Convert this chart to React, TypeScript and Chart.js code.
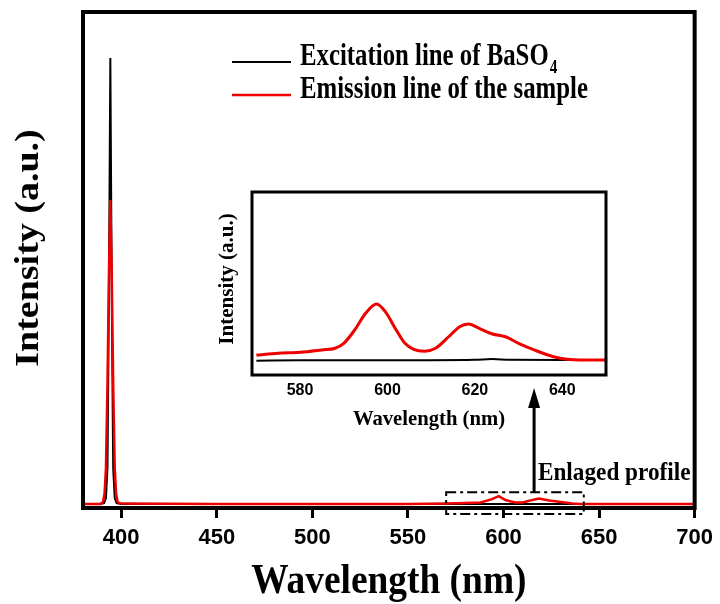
import React, { useEffect, useRef } from 'react';
import { Chart, registerables } from 'chart.js';

Chart.register(...registerables);

// ---------- main chart data ----------
const mainTicks = [400, 450, 500, 550, 600, 650, 700];

const excitationWl = [380, 389, 391, 392, 392.8, 393.5, 394.3, 395.1, 395.8, 396.6, 397.6, 400, 450, 500, 550, 600, 650, 700];
const excitationInt = [0.8, 0.8, 1.0, 2, 8, 40, 90.7, 40, 8, 2, 1.0, 0.8, 0.8, 0.8, 0.8, 0.8, 0.8, 0.8];

const emissionWl = [380, 389, 390.5, 391.3, 392, 392.8, 393.6, 394.3, 395, 395.8, 396.6, 397.3, 398.1, 400, 450, 500, 550, 570, 580, 588, 594, 597.5, 601, 606, 610, 614, 618.5, 624, 630, 636, 640, 700];
const emissionInt = [0.8, 0.8, 1.2, 3, 8, 25, 48, 62.1, 48, 25, 8, 3, 1.2, 0.9, 0.8, 0.8, 0.8, 0.9, 1.0, 1.1, 1.8, 2.4, 1.6, 1.1, 1.1, 1.5, 1.9, 1.5, 1.2, 0.9, 0.8, 0.8];

// zoom box (data units) and arrow / label anchors
const zoomBox = { x0: 570, x1: 642, y0: -1.2, y1: 3.2 };
const arrowFrom = { x: 616, y: 3.2 };
const arrowTip = { x: 616, y: 24.2 };
const labelAnchor = { x: 618, y: 5.6 };

// ---------- inset data ----------
const insetTicks = [580, 600, 620, 640];
const insetEmWl = [570, 575, 580, 585, 588, 590, 592.5, 595, 597.5, 599.5, 602, 604, 606, 608.5, 611, 614, 616.5, 618.5, 621, 624, 627, 630, 634, 638, 641, 645, 650];
const insetEmInt = [10.9, 11.9, 12.4, 13.7, 14.6, 17.3, 24.6, 33.7, 38.8, 34.6, 24.6, 17.3, 14.0, 13.0, 14.6, 20.9, 26.4, 27.9, 25.5, 22.4, 20.9, 17.3, 13.3, 10.0, 8.6, 8.2, 8.2];
const insetExWl = [570, 580, 590, 600, 610, 620, 624, 628, 640, 650];
const insetExInt = [7.8, 8.0, 8.0, 8.1, 8.1, 8.3, 8.7, 8.3, 8.2, 8.2];

const legendLabels = ['Excitation line of BaSO', 'Emission line of the sample'];

const SERIF = '"Liberation Serif", "Times New Roman", serif';
const SANS = '"Liberation Sans", Arial, sans-serif';
const RED = '#ee0000';

const pts = (xs: number[], ys: number[]) => xs.map((x, i) => ({ x, y: ys[i] }));

function drawText(
  ctx: CanvasRenderingContext2D,
  s: string,
  x: number,
  y: number,
  size: number,
  o: { align?: CanvasTextAlign; baseline?: CanvasTextBaseline; rotate?: boolean; squeeze?: number } = {}
) {
  ctx.save();
  ctx.translate(x, y);
  const sq = o.squeeze ?? 1;
  if (o.rotate) {
    ctx.rotate(-Math.PI / 2);
    ctx.scale(1, sq);
  } else {
    ctx.scale(sq, 1);
  }
  ctx.font = `bold ${size}px ${SERIF}`;
  ctx.fillStyle = '#000';
  ctx.textAlign = o.align ?? 'left';
  ctx.textBaseline = o.baseline ?? 'alphabetic';
  ctx.fillText(s, 0, 0);
  const w = ctx.measureText(s).width * sq;
  ctx.restore();
  return w;
}

const mainDecor = {
  id: 'mainDecor',
  afterDraw(chart: any) {
    const { ctx, chartArea: a, scales } = chart;
    const sx = scales.x, sy = scales.y;
    ctx.save();
    // frame
    ctx.strokeStyle = '#000';
    ctx.lineWidth = 4;
    ctx.strokeRect(a.left, a.top, a.right - a.left, a.bottom - a.top);

    // zoom box
    ctx.lineWidth = 2;
    ctx.setLineDash([10, 4, 3, 4]);
    const bx0 = sx.getPixelForValue(zoomBox.x0), bx1 = sx.getPixelForValue(zoomBox.x1);
    const by0 = sy.getPixelForValue(zoomBox.y1), by1 = sy.getPixelForValue(zoomBox.y0);
    ctx.strokeRect(bx0, by0, bx1 - bx0, by1 - by0);
    ctx.setLineDash([]);

    // arrow
    const ax = sx.getPixelForValue(arrowFrom.x);
    const ay0 = sy.getPixelForValue(arrowFrom.y);
    const ay1 = sy.getPixelForValue(arrowTip.y);
    ctx.lineWidth = 3;
    ctx.beginPath();
    ctx.moveTo(ax, ay0);
    ctx.lineTo(ax, ay1 + 16);
    ctx.stroke();
    ctx.fillStyle = '#000';
    ctx.beginPath();
    ctx.moveTo(ax, ay1);
    ctx.lineTo(ax - 6, ay1 + 20);
    ctx.lineTo(ax + 6, ay1 + 20);
    ctx.closePath();
    ctx.fill();

    // label
    drawText(ctx, 'Enlaged profile', sx.getPixelForValue(labelAnchor.x), sy.getPixelForValue(labelAnchor.y), 25, { squeeze: 0.93 });

    // axis titles
    drawText(ctx, 'Wavelength (nm)', (a.left + a.right) / 2, 593, 43, { align: 'center', squeeze: 0.87 });
    drawText(ctx, 'Intensity (a.u.)', 30, 248, 38, { align: 'center', baseline: 'middle', rotate: true, squeeze: 0.86 });

    // legend
    const colors = ['#000', RED];
    const widths = [2, 2.5];
    const ys = [62, 95];
    legendLabels.forEach((lab, i) => {
      ctx.strokeStyle = colors[i];
      ctx.lineWidth = widths[i];
      ctx.beginPath();
      ctx.moveTo(232, ys[i]);
      ctx.lineTo(291, ys[i]);
      ctx.stroke();
      const w = drawText(ctx, lab, 300, ys[i] + 3, 31, { squeeze: 0.8 });
      if (i === 0) drawText(ctx, '4', 300 + w + 1, ys[i] + 11, 19, { squeeze: 0.8 });
    });
    ctx.restore();
  },
};

const insetDecor = {
  id: 'insetDecor',
  afterDraw(chart: any) {
    const { ctx, chartArea: a } = chart;
    ctx.save();
    ctx.strokeStyle = '#000';
    ctx.lineWidth = 3;
    ctx.strokeRect(a.left, a.top, a.right - a.left, a.bottom - a.top);
    drawText(ctx, 'Wavelength (nm)', (a.left + a.right) / 2, 240, 22, { align: 'center', squeeze: 0.94 });
    drawText(ctx, 'Intensity (a.u.)', 28, 94, 21, { align: 'center', baseline: 'middle', rotate: true });
    ctx.restore();
  },
};

export default function App() {
  const mainRef = useRef<HTMLCanvasElement>(null);
  const insetRef = useRef<HTMLCanvasElement>(null);

  useEffect(() => {
    const main = new Chart(mainRef.current!, {
      type: 'line',
      data: {
        datasets: [
          { label: 'Emission line of the sample', data: pts(emissionWl, emissionInt), borderColor: RED, borderWidth: 2.5, pointRadius: 0, tension: 0 },
          { label: 'Excitation line of BaSO4', data: pts(excitationWl, excitationInt), borderColor: '#000', borderWidth: 2, pointRadius: 0, tension: 0 },
        ],
      },
      options: {
        animation: false,
        responsive: false,
        layout: { padding: { left: 83, right: 22, top: 12, bottom: 0 } },
        plugins: { legend: { display: false }, tooltip: { enabled: false } },
        scales: {
          x: {
            type: 'linear',
            min: 380,
            max: 700,
            afterBuildTicks: (ax: any) => { ax.ticks = mainTicks.map((v) => ({ value: v })); },
            afterFit: (s: any) => { s.height = 96; },
            grid: { drawOnChartArea: false, drawTicks: true, tickLength: 10, color: '#000', lineWidth: 3 },
            border: { display: false },
            ticks: { color: '#000', font: { family: SANS, size: 22, weight: 'bold' }, padding: 7, maxRotation: 0, autoSkip: false },
          },
          y: { display: false, min: 0, max: 100 },
        },
      } as any,
      plugins: [mainDecor],
    });

    const inset = new Chart(insetRef.current!, {
      type: 'line',
      data: {
        datasets: [
          { label: 'Emission', data: pts(insetEmWl, insetEmInt), borderColor: RED, borderWidth: 3, pointRadius: 0, cubicInterpolationMode: 'monotone' },
          { label: 'Excitation', data: pts(insetExWl, insetExInt), borderColor: '#000', borderWidth: 2, pointRadius: 0, cubicInterpolationMode: 'monotone' },
        ],
      },
      options: {
        animation: false,
        responsive: false,
        layout: { padding: { left: 52, right: 14, top: 7, bottom: 0 } },
        plugins: { legend: { display: false }, tooltip: { enabled: false } },
        scales: {
          x: {
            type: 'linear',
            min: 569,
            max: 650,
            afterBuildTicks: (ax: any) => { ax.ticks = insetTicks.map((v) => ({ value: v })); },
            afterFit: (s: any) => { s.height = 60; },
            grid: { display: false, drawTicks: false },
            border: { display: false },
            ticks: { color: '#000', font: { family: SANS, size: 16, weight: 'bold' }, padding: 6, maxRotation: 0, autoSkip: false },
          },
          y: { display: false, min: 0, max: 100 },
        },
      } as any,
      plugins: [insetDecor],
    });

    return () => {
      main.destroy();
      inset.destroy();
    };
  }, []);

  return (
    <div style={{ position: 'absolute', left: 0, top: 0, width: 720, height: 604, background: '#fff' }}>
      <canvas ref={mainRef} width={720} height={604} style={{ position: 'absolute', left: 0, top: 0, display: 'block' }} />
      <canvas ref={insetRef} width={420} height={250} style={{ position: 'absolute', left: 200, top: 185, display: 'block' }} />
    </div>
  );
}
